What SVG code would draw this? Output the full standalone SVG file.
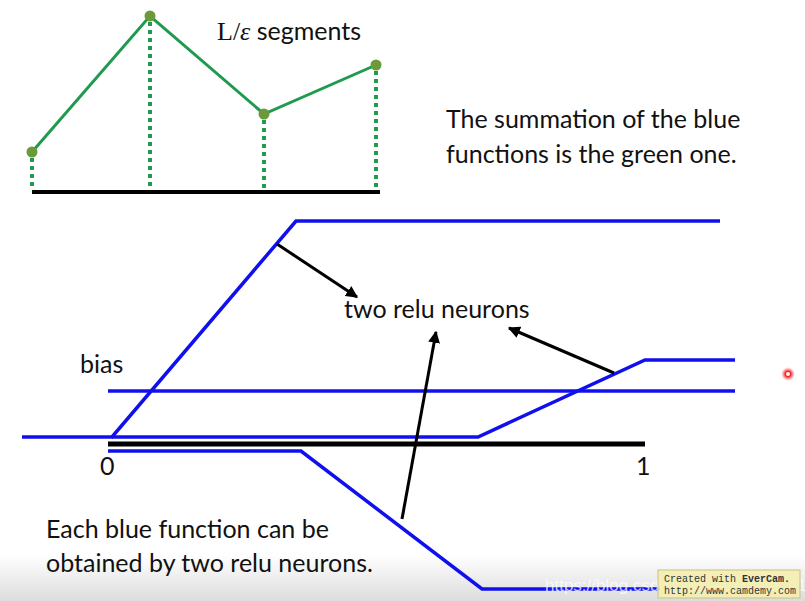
<svg xmlns="http://www.w3.org/2000/svg" width="805" height="601" viewBox="0 0 805 601">
<defs>
<linearGradient id="bg" x1="0" y1="0" x2="0" y2="1">
<stop offset="0" stop-color="#ffffff"/>
<stop offset="1" stop-color="#dcdcdc"/>
</linearGradient>
<radialGradient id="glow">
<stop offset="0.4" stop-color="#ff2020"/>
<stop offset="1" stop-color="#ff8080" stop-opacity="0"/>
</radialGradient>
<marker id="ah" viewBox="0 0 10 10" refX="9" refY="5" markerWidth="4" markerHeight="4" orient="auto" markerUnits="strokeWidth">
<path d="M0,0 L10,5 L0,10 z" fill="#000"/>
</marker>
</defs>
<style>
.t{font-family:Lato,"Open Sans","Liberation Sans",sans-serif;font-size:25px;fill:#111}
.blue{fill:none;stroke:#1010ee;stroke-width:3.5}
.green{fill:none;stroke:#1f9a4e;stroke-width:3}
.dot{fill:none;stroke:#1f9a4e;stroke-width:4;stroke-dasharray:4 4}
.pt{fill:#6b9a3a}
.arr{stroke:#000;stroke-width:3;marker-end:url(#ah)}
</style>
<rect width="805" height="601" fill="#fff"/>
<rect x="0" y="555" width="805" height="46" fill="url(#bg)"/>

<g id="green-chart">
<line x1="32" y1="192" x2="380" y2="192" stroke="#000" stroke-width="4"/>
<line class="dot" x1="32" y1="158" x2="32" y2="190"/>
<line class="dot" x1="150" y1="22" x2="150" y2="190"/>
<line class="dot" x1="264" y1="120" x2="264" y2="190"/>
<line class="dot" x1="376" y1="71" x2="376" y2="190"/>
<polyline class="green" points="32,152 150,16 264,114 376,65"/>
<circle class="pt" cx="32" cy="152" r="5.5"/>
<circle class="pt" cx="150" cy="16" r="5.5"/>
<circle class="pt" cx="264" cy="114" r="5.5"/>
<circle class="pt" cx="376" cy="65" r="5.5"/>
<text x="217" y="40" class="t"><tspan font-family="'Liberation Serif',serif" font-size="26">L/<tspan font-style="italic">ε</tspan></tspan> segments</text>
</g>

<g id="summary-text">
<text x="446" y="128" class="t">The summation of the blue</text>
<text x="446" y="163" class="t">functions is the green one.</text>
</g>

<g id="axis">
<line x1="108" y1="444" x2="645" y2="444" stroke="#000" stroke-width="5"/>
<text x="100" y="475" class="t">0</text>
<text x="636" y="475" class="t">1</text>
</g>

<g id="bias">
<line class="blue" x1="108" y1="391" x2="735" y2="391"/>
<text x="80" y="373" class="t">bias</text>
</g>

<g id="blue-functions">
<polyline class="blue" points="22,437 112,437 296,221 720,221"/>
<polyline class="blue" points="112,437 478,437 645,360 735,360"/>
<polyline class="blue" points="108,451 301,451 482,589 660,589"/>
</g>

<g id="label-relu">
<text x="344" y="318" class="t">two relu neurons</text>
</g>

<g id="connectors">
<line class="arr" x1="277" y1="244" x2="357" y2="297"/>
<line class="arr" x1="402" y1="519" x2="436" y2="332"/>
<line class="arr" x1="614" y1="373" x2="509" y2="328"/>
</g>

<g id="caption">
<text x="46" y="538" class="t">Each blue function can be</text>
<text x="46" y="572" class="t">obtained by two relu neurons.</text>
</g>

<g id="overlays">
<circle cx="788" cy="374" r="7" fill="url(#glow)"/>
<circle cx="788" cy="374" r="2" fill="#fff"/>
<text x="545" y="591" font-family="'Liberation Sans',sans-serif" font-size="17" fill="#ffffff" fill-opacity="0.75">https://blog.csdn.net/Stephanie2014</text>
<rect x="658" y="570" width="142" height="28" fill="#f3eeb0" fill-opacity="0.9" stroke="#c8c080" stroke-width="1"/>
<text x="664" y="582" font-family="'Liberation Mono',monospace" font-size="10" fill="#333">Created with <tspan font-weight="bold">EverCam.</tspan></text>
<text x="664" y="594" font-family="'Liberation Mono',monospace" font-size="10" fill="#333">http://www.camdemy.com</text>
</g>
</svg>
